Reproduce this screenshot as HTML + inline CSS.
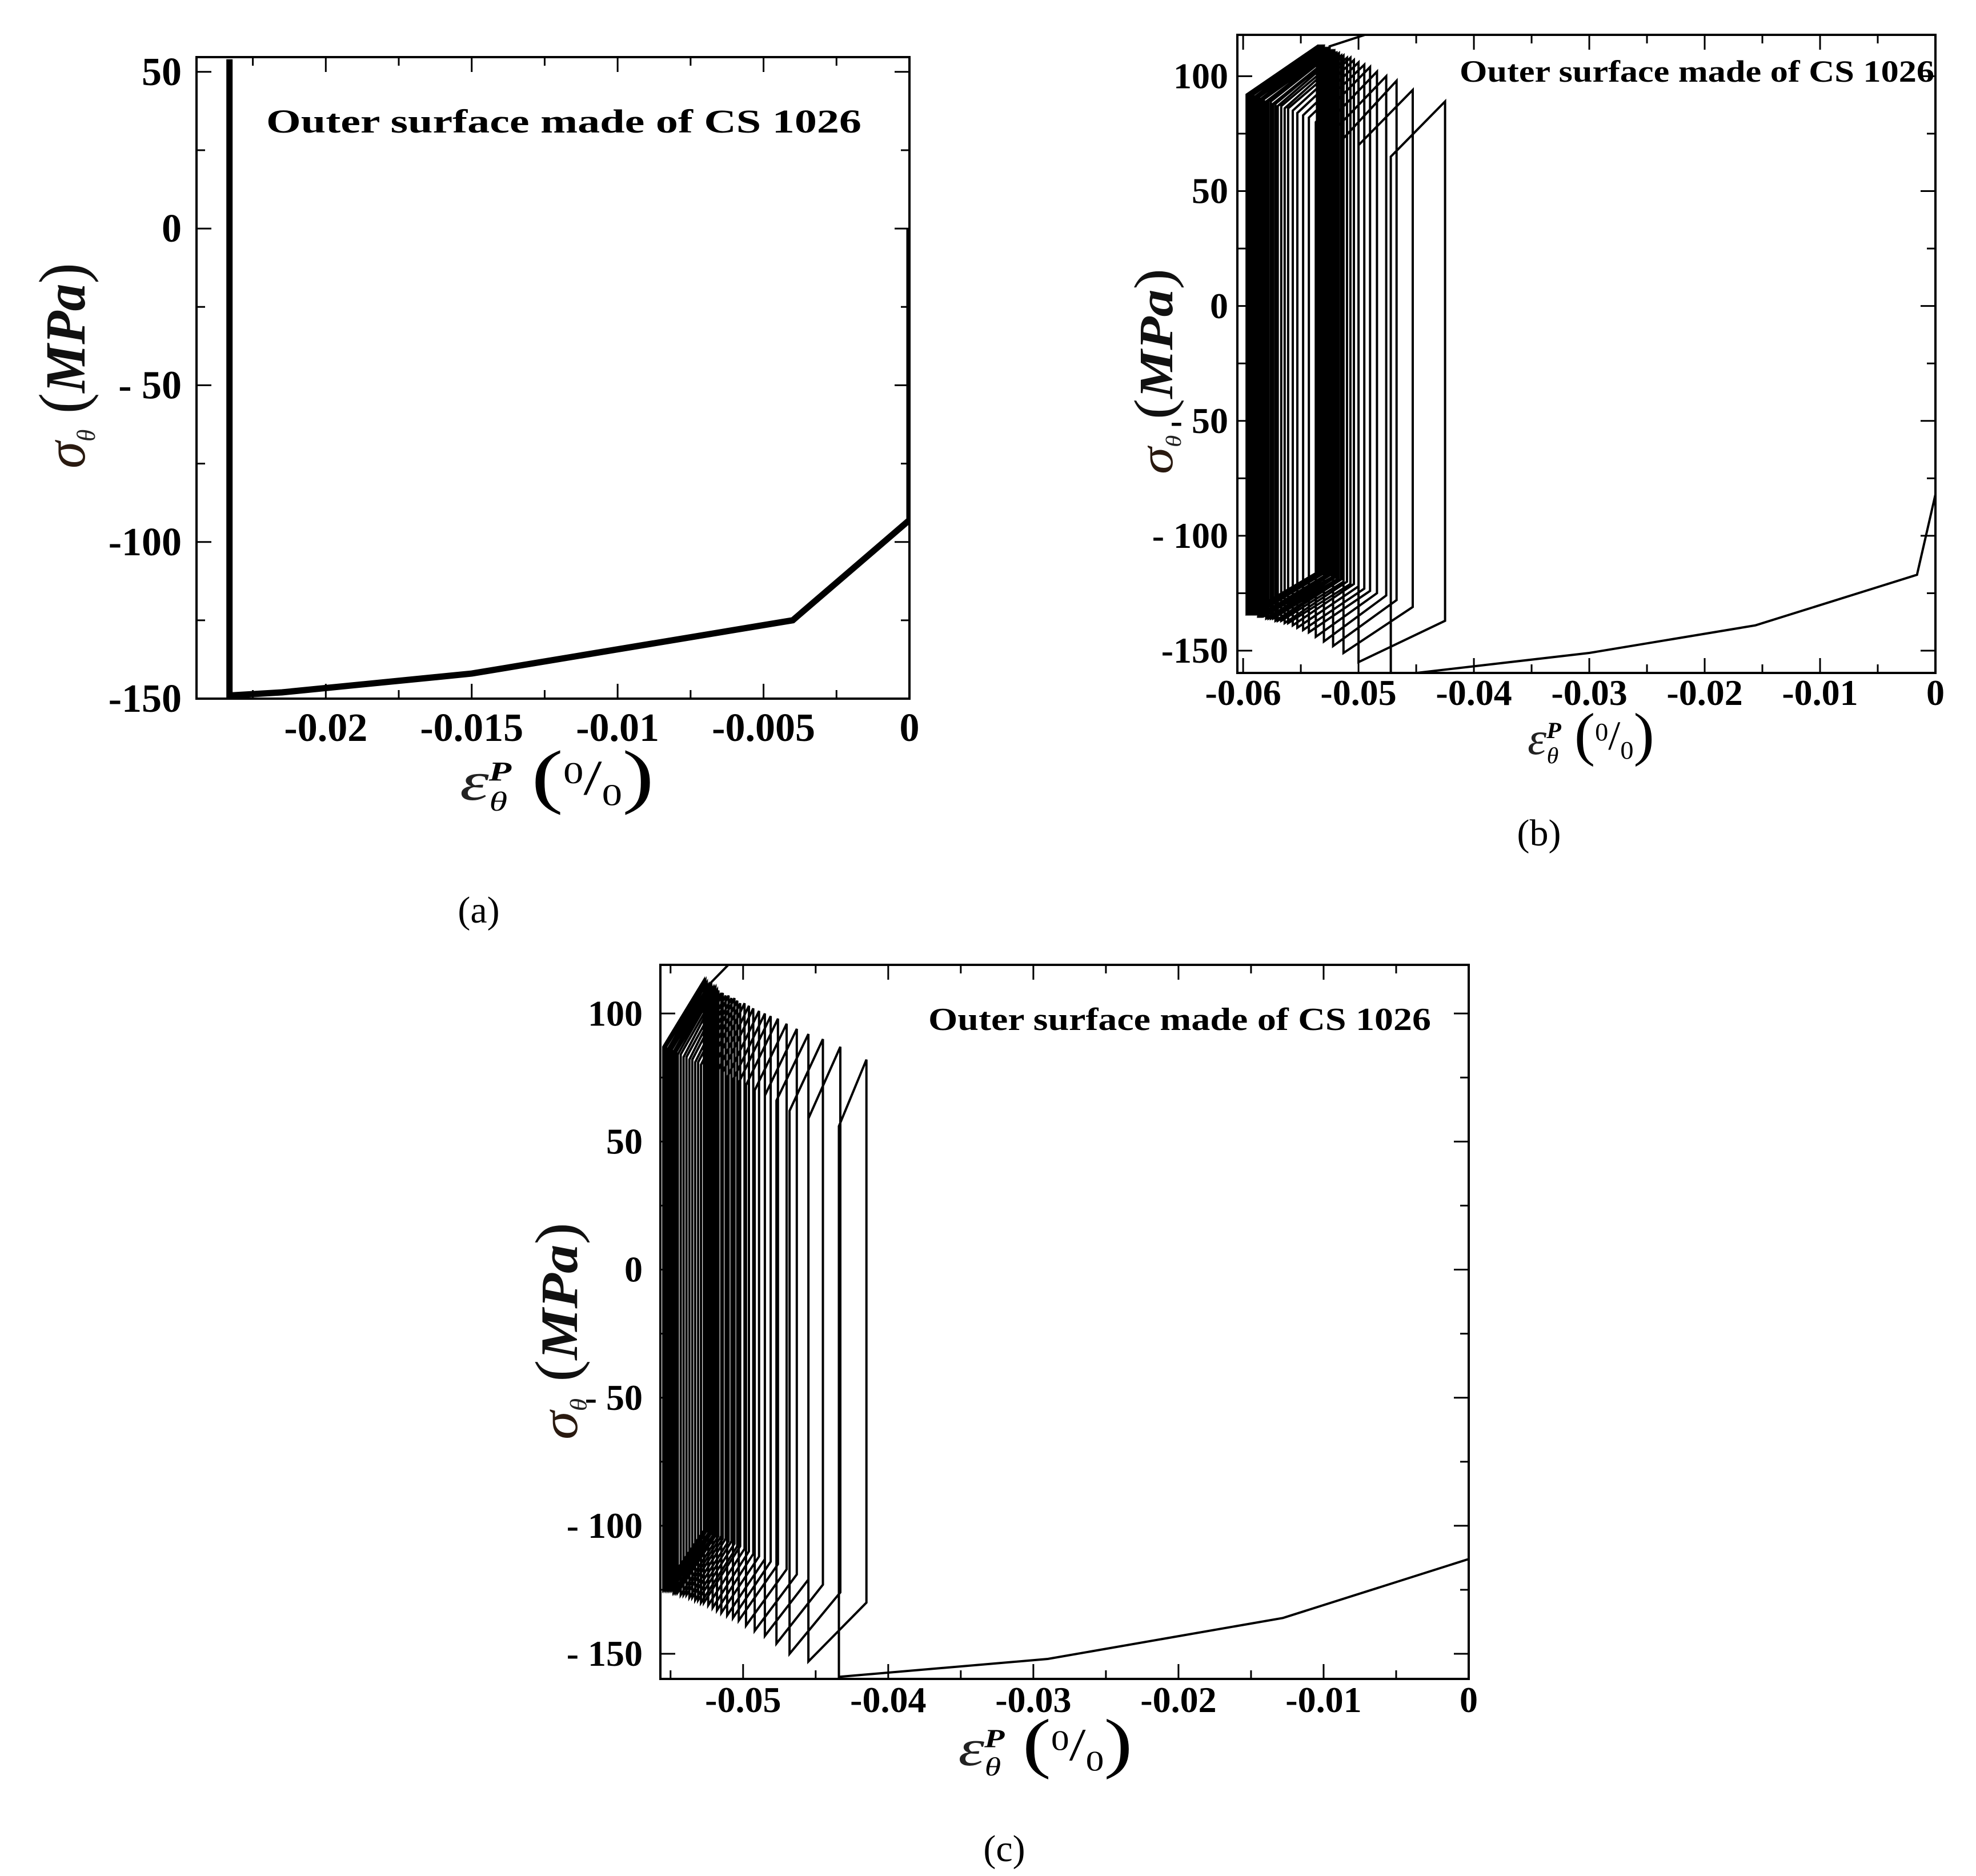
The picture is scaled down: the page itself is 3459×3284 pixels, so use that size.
<!DOCTYPE html>
<html><head><meta charset="utf-8"><title>Hoop stress vs plastic strain</title>
<style>
html,body{margin:0;padding:0;background:#fff;}
svg{display:block;}
text{font-family:"Liberation Serif",serif;}
</style></head>
<body>
<svg id="fig" xmlns="http://www.w3.org/2000/svg" width="3459" height="3284" viewBox="0 0 3459 3284">
<rect x="0" y="0" width="3459" height="3284" fill="#fff"/>
</svg>
<script>
// ---------- Panel (a) data ----------
const aX = [-0.0233, -0.0233, -0.0215, -0.015, -0.004, 0, 0];
const aY = [54, -149, -148, -142, -125, -93, 0];
const aXTicks = [-0.02, -0.015, -0.01, -0.005, 0];
const aXTickLabels = ["-0.02", "-0.015", "-0.01", "-0.005", "0"];
const aYTicks = [50, 0, -50, -100, -150];
const aYTickLabels = ["50", "0", "- 50", "-100", "-150"];

// ---------- Panel (b) data ----------
const bInitX = [0, -0.0016, -0.0156, -0.030, -0.0472];
const bInitY = [-82, -117, -139, -151, -161];
const bXL = [-0.0472,-0.0500,-0.0513,-0.0522,-0.0530,-0.0537,-0.0543,-0.0548,-0.0553,-0.0557,-0.0561,-0.0564,-0.0567,-0.0570,-0.0572,-0.0574,-0.0576,-0.0578,-0.0580,-0.0582,-0.0583,-0.0584,-0.0585,-0.0586,-0.0587,-0.0588,-0.0589,-0.0590,-0.0591,-0.0592,-0.0593,-0.0594,-0.0595,-0.0596,-0.0597,-0.0597];
const bXR = [-0.0425,-0.0453,-0.0467,-0.0476,-0.0484,-0.0490,-0.0495,-0.0500,-0.0504,-0.0507,-0.0510,-0.0513,-0.0515,-0.0517,-0.0519,-0.0520,-0.0521,-0.0522,-0.0523,-0.0524,-0.0525,-0.0526,-0.0527,-0.0528,-0.0529,-0.0530,-0.0531,-0.0532,-0.0533,-0.0533,-0.0534,-0.0534,-0.0535,-0.0535,-0.0536,-0.0536];
const bYLt = [65,70,73,76,78,80,82,83,84,85,86,86,87,87,88,88,89,89,89,90,90,90,90,91,91,91,91,91,92,92,92,92,92,92,92,92];
const bYRt = [89,94,98,100,102,104,105,106,107,108,108,109,109,110,110,110,111,111,111,111,112,112,112,112,112,113,113,113,113,113,113,113,113,113,113,113];
const bYRb = [-137,-131,-128,-126,-125,-124,-123,-122,-121,-121,-120,-120,-119,-119,-119,-118,-118,-118,-118,-117,-117,-117,-117,-117,-116,-116,-116,-116,-116,-116,-116,-116,-116,-116,-116,-116];
const bYLb = [-161,-155,-151,-148,-146,-144,-142,-141,-140,-139,-138,-138,-137,-137,-137,-136,-136,-136,-136,-135,-135,-135,-135,-135,-135,-134,-134,-134,-134,-134,-134,-134,-134,-134,-134,-134];
const bEndX = [-0.0525, -0.0470];
const bEndY = [113, 122];
const bXTicks = [-0.06, -0.05, -0.04, -0.03, -0.02, -0.01, 0];
const bXTickLabels = ["-0.06", "-0.05", "-0.04", "-0.03", "-0.02", "-0.01", "0"];
const bYTicks = [100, 50, 0, -50, -100, -150];
const bYTickLabels = ["100", "50", "0", "- 50", "- 100", "-150"];

// ---------- Panel (c) data ----------
const cInitX = [0, 0, -0.0128, -0.029, -0.0434];
const cInitY = [-93, -113, -136, -152, -159];
const cXL = [-0.0434,-0.0455,-0.0468,-0.0477,-0.0485,-0.0492,-0.0498,-0.0503,-0.0507,-0.0511,-0.0515,-0.0518,-0.0521,-0.0524,-0.0527,-0.0529,-0.0531,-0.0533,-0.0535,-0.0537,-0.0539,-0.0541,-0.0543,-0.0545,-0.0546,-0.0547,-0.0548,-0.0549,-0.0550,-0.0551,-0.0552,-0.0553,-0.0554,-0.0555];
const cXR = [-0.0415,-0.0433,-0.0445,-0.0455,-0.0463,-0.0470,-0.0476,-0.0481,-0.0485,-0.0489,-0.0493,-0.0496,-0.0499,-0.0502,-0.0504,-0.0506,-0.0508,-0.0510,-0.0512,-0.0514,-0.0515,-0.0517,-0.0518,-0.0519,-0.0520,-0.0521,-0.0522,-0.0523,-0.0524,-0.0525,-0.0525,-0.0526,-0.0526,-0.0527];
const cYLt = [56,59,62,66,68,70,72,73,74,75,76,77,78,79,79,80,81,81,82,82,83,83,84,84,85,85,85,86,86,86,86,87,87,87];
const cYRt = [82,87,90,92,94,96,98,99,100,101,102,103,104,104,105,106,106,107,107,108,108,109,109,110,110,110,111,111,111,112,112,112,113,113];
const cYRb = [-130,-126,-123,-121,-119,-117,-115,-114,-113,-112,-111,-110,-109,-108,-108,-107,-106,-106,-105,-105,-104,-104,-103,-103,-103,-102,-102,-102,-101,-101,-101,-101,-101,-101];
const cYLb = [-159,-153,-150,-146,-143,-141,-139,-137,-136,-135,-134,-133,-132,-131,-130,-130,-129,-129,-128,-128,-127,-127,-127,-126,-126,-126,-126,-125,-125,-125,-125,-125,-125,-125];
const cEndX = [-0.0524, -0.0505];
const cEndY = [111, 122];
const cXTicks = [-0.05, -0.04, -0.03, -0.02, -0.01, 0];
const cXTickLabels = ["-0.05", "-0.04", "-0.03", "-0.02", "-0.01", "0"];
const cYTicks = [100, 50, 0, -50, -100, -150];
const cYTickLabels = ["100", "50", "0", "- 50", "- 100", "- 150"];

const NS = "http://www.w3.org/2000/svg";
const svg = document.getElementById("fig");
function mk(tag, attrs, parent) {
  const e = document.createElementNS(NS, tag);
  for (const k in attrs) e.setAttribute(k, attrs[k]);
  (parent || svg).appendChild(e);
  return e;
}

function panel(cfg) {
  const g = mk("g", {});
  
  
  const L = cfg.box[0], T = cfg.box[1], R = cfg.box[2], B = cfg.box[3];
  const sx = v => R + (v - cfg.xMax) / (cfg.xMax - cfg.xMin) * (R - L);
  const sy = v => B - (v - cfg.yMin) / (cfg.yMax - cfg.yMin) * (B - T);
  const clip = mk("clipPath", { id: cfg.name + "-clip" }, g);
  mk("rect", { x: L, y: T, width: R - L, height: B - T }, clip);

  const frame = mk("rect", { x: L, y: T, width: R - L, height: B - T, fill: "none", stroke: "#000", "stroke-width": 4 }, g);
  
  

  const xt = cfg.xTicks;
  const step = Math.abs(xt[1] - xt[0]);
  for (let v = xt[0] - step; v <= cfg.xMax + 1e-9; v += step / 2) {
    if (v < cfg.xMin - 1e-9) continue;
    const isMajor = Math.abs(Math.round(v / step) * step - v) < 1e-7;
    const len = isMajor ? 26 : 15;
    const X = sx(v);
    const t1 = mk("line", { x1: X, y1: B, x2: X, y2: B - len, stroke: "#000", "stroke-width": 3 }, g);
    
    
    const t2 = mk("line", { x1: X, y1: T, x2: X, y2: T + len, stroke: "#000", "stroke-width": 3 }, g);
    
    
  }
  xt.forEach((v, i) => {
    const t = mk("text", { x: sx(v), y: cfg.xLabelY, "text-anchor": "middle", "font-size": cfg.tickFont, "font-weight": "bold" }, g);
    t.textContent = cfg.xTickLabels[i];
    
    
  });
  const yt = cfg.yTicks;
  const ystep = Math.abs(yt[0] - yt[1]);
  for (let v = Math.min(...yt); v <= cfg.yMax + 1e-9; v += ystep / 2) {
    const isMajor = Math.abs(Math.round(v / ystep) * ystep - v) < 1e-7;
    const len = isMajor ? 26 : 15;
    const Y = sy(v);
    const t1 = mk("line", { x1: L, y1: Y, x2: L + len, y2: Y, stroke: "#000", "stroke-width": 3 }, g);
    
    
    const t2 = mk("line", { x1: R, y1: Y, x2: R - len, y2: Y, stroke: "#000", "stroke-width": 3 }, g);
    
    
  }
  yt.forEach((v, i) => {
    const t = mk("text", { x: cfg.yLabelX, y: sy(v) + cfg.tickFont * 0.33, "text-anchor": "end", "font-size": cfg.tickFont, "font-weight": "bold" }, g);
    t.textContent = cfg.yTickLabels[i];
    
    
  });

  const dg = mk("g", { "clip-path": "url(#" + cfg.name + "-clip)" }, g);
  cfg.draw(dg, sx, sy);

  if (cfg.note) {
    const n = mk("text", { x: cfg.note[0], y: cfg.note[1], "font-size": cfg.note[3], "font-weight": "bold", textLength: cfg.note[2], lengthAdjust: "spacingAndGlyphs" }, g);
    n.textContent = "Outer surface made of CS 1026";
    
    
  }

  const yt0 = cfg.yTitle;
  const yg = mk("text", { x: 0, y: 0, "font-size": yt0[3], transform: "translate(" + yt0[0] + "," + yt0[1] + ") rotate(-90)", "text-anchor": "middle", textLength: yt0[2], lengthAdjust: "spacingAndGlyphs" }, g);
  
  
  const s1 = mk("tspan", { "font-style": "italic", fill: "#2a1a10" }, yg); s1.textContent = "σ";
  const s2 = mk("tspan", { "font-style": "italic", "font-size": yt0[3] * 0.45, dy: yt0[3] * 0.18, fill: "#222" }, yg); s2.textContent = "θ";
  const s3 = mk("tspan", { dy: -yt0[3] * 0.18, fill: "#111", "font-size": yt0[3] * 1.15 }, yg); s3.textContent = " (";
  const s4 = mk("tspan", { "font-style": "italic", "font-weight": "bold", fill: "#111" }, yg); s4.textContent = "MPa";
  const s5 = mk("tspan", { fill: "#111", "font-size": yt0[3] * 1.15 }, yg); s5.textContent = ")";

  const xt0 = cfg.xTitle;
  const xg = mk("text", { x: xt0[0], y: xt0[1], "font-size": xt0[3], "text-anchor": "middle", textLength: xt0[2], lengthAdjust: "spacingAndGlyphs" }, g);
  
  
  const e1 = mk("tspan", { "font-style": "italic", fill: "#222" }, xg); e1.textContent = "ε";
  const e2 = mk("tspan", { "font-style": "italic", "font-weight": "bold", "font-size": xt0[3] * 0.5, dy: -xt0[3] * 0.35 }, xg); e2.textContent = "P";
  const e3 = mk("tspan", { "font-style": "italic", "font-size": xt0[3] * 0.5, dx: -xt0[3] * 0.3, dy: xt0[3] * 0.55 }, xg); e3.textContent = "θ";
  const e4 = mk("tspan", { "font-size": xt0[3] * 1.3, dy: -xt0[3] * 0.2 }, xg); e4.textContent = " (";
  const e5 = mk("tspan", { "font-size": xt0[3] * 0.55, dy: -xt0[3] * 0.3 }, xg); e5.textContent = "0";
  const e6 = mk("tspan", { "font-size": xt0[3] * 0.9, dy: xt0[3] * 0.2 }, xg); e6.textContent = "/";
  const e7 = mk("tspan", { "font-size": xt0[3] * 0.55, dy: xt0[3] * 0.2 }, xg); e7.textContent = "0";
  const e8 = mk("tspan", { "font-size": xt0[3] * 1.3, dy: -xt0[3] * 0.1 }, xg); e8.textContent = ")";

  const cap = mk("text", { x: cfg.caption[0], y: cfg.caption[1], "font-size": 66, "text-anchor": "middle" }, g);
  cap.textContent = cfg.caption[2];
  
  
}

function pathFrom(xs, ys, sx, sy) {
  return xs.map((v, i) => (i ? "L" : "M") + sx(v).toFixed(1) + " " + sy(ys[i]).toFixed(1)).join(" ");
}
function cyclePath(initX, initY, XL, XR, YLt, YRt, YRb, YLb, endX, endY, sx, sy) {
  let d = pathFrom(initX, initY, sx, sy);
  for (let i = 0; i < XL.length; i++) {
    d += " L" + sx(XL[i]).toFixed(1) + " " + sy(YLb[i]).toFixed(1);
    d += " L" + sx(XL[i]).toFixed(1) + " " + sy(YLt[i]).toFixed(1);
    d += " L" + sx(XR[i]).toFixed(1) + " " + sy(YRt[i]).toFixed(1);
    d += " L" + sx(XR[i]).toFixed(1) + " " + sy(YRb[i]).toFixed(1);
  }
  d += " L" + sx(endX[0]).toFixed(1) + " " + sy(endY[0]).toFixed(1);
  d += " L" + sx(endX[1]).toFixed(1) + " " + sy(endY[1]).toFixed(1);
  return d;
}

panel({
  name: "panel-a", box: [344, 100, 1592, 1223], xMin: -0.02443, xMax: 0, yMin: -150, yMax: 54.7,
  xTicks: aXTicks, xTickLabels: aXTickLabels, yTicks: aYTicks, yTickLabels: aYTickLabels,
  tickFont: 70, xLabelY: 1297, yLabelX: 318,
  note: [466, 232, 1042, 58],
  yTitle: [148, 640, 360, 100], xTitle: [975, 1400, 340, 96],
  caption: [838, 1615, "(a)"],
  draw: (g, sx, sy) => {
    const p = mk("path", { d: pathFrom(aX, aY, sx, sy), fill: "none", stroke: "#000", "stroke-width": 11, "stroke-linejoin": "miter" }, g);
    
    
  }
});

panel({
  name: "panel-b", box: [2166, 61, 3388, 1178], xMin: -0.0605, xMax: 0, yMin: -159.7, yMax: 118,
  xTicks: bXTicks, xTickLabels: bXTickLabels, yTicks: bYTicks, yTickLabels: bYTickLabels,
  tickFont: 64, xLabelY: 1234, yLabelX: 2150,
  note: [2555, 143, 831, 54],
  yTitle: [2052, 650, 360, 84], xTitle: [2785, 1320, 222, 80],
  caption: [2694, 1480, "(b)"],
  draw: (g, sx, sy) => {
    const p = mk("path", { d: cyclePath(bInitX, bInitY, bXL, bXR, bYLt, bYRt, bYRb, bYLb, bEndX, bEndY, sx, sy), fill: "none", stroke: "#000", "stroke-width": 4 }, g);
    
    
  }
});

panel({
  name: "panel-c", box: [1156, 1689, 2571, 2939], xMin: -0.0557, xMax: 0, yMin: -159.8, yMax: 119,
  xTicks: cXTicks, xTickLabels: cXTickLabels, yTicks: cYTicks, yTickLabels: cYTickLabels,
  tickFont: 64, xLabelY: 2997, yLabelX: 1125,
  note: [1625, 1803, 880, 56],
  yTitle: [1010, 2330, 380, 92], xTitle: [1830, 3090, 305, 90],
  caption: [1758, 3258, "(c)"],
  draw: (g, sx, sy) => {
    const p = mk("path", { d: cyclePath(cInitX, cInitY, cXL, cXR, cYLt, cYRt, cYRb, cYLb, cEndX, cEndY, sx, sy), fill: "none", stroke: "#000", "stroke-width": 4 }, g);
    
    
  }
});
</script>
</body></html>
